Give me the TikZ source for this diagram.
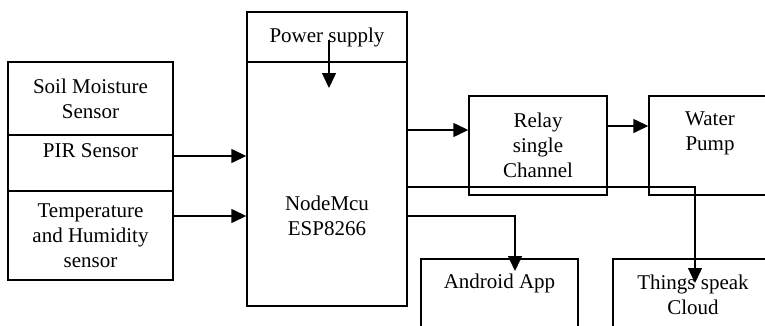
\documentclass[tikz,border=0pt]{standalone}
\usepackage{fontspec}
\setmainfont{Liberation Serif}
\usetikzlibrary{arrows.meta,positioning}

\begin{document}
\begin{tikzpicture}[
  x=1pt, y=-1pt,
  every node/.style={font=\fontsize{21}{25}\selectfont},
  blk/.style={draw, line width=1.4pt, inner sep=0pt, align=center},
  txt/.style={inner sep=0pt, align=center},
  arr/.style={-{Triangle[length=15pt, width=14pt]}, line width=1.4pt}
]
  \useasboundingbox (0,0) rectangle (765,325);
  \clip (0,0) rectangle (765,325);

  % Sensor column (x = 8 .. 173)
  \node[blk, minimum width=165pt, minimum height=73pt] (soil) at (90.5,98.5) {Soil Moisture\\Sensor};
  \node[blk, minimum width=165pt, minimum height=56pt] (pir) at (90.5,163) {};
  \node[txt] (pirtxt) at (90.5,151) {PIR Sensor};
  \node[blk, minimum width=165pt, minimum height=89pt] (temp) at (90.5,235.5) {Temperature\\and Humidity\\sensor};

  % Controller, power supply on top (x = 247 .. 407)
  \node[blk, minimum width=160pt, minimum height=50pt] (power) at (327,37) {Power supply};
  \node[blk, minimum width=160pt, minimum height=244pt] (mcu) at (327,184) {};
  \node[txt] (mcutxt) at (327,215.5) {NodeMcu\\ESP8266};

  % Outputs (right half runs past the page edge)
  \node[blk, minimum width=138pt, minimum height=99pt] (relay) at (538,145.5) {Relay\\single\\Channel};
  \node[blk, minimum width=122pt, minimum height=99pt] (pump) at (710,145.5) {};
  \node[txt] (pumptxt) at (710,133.5) {Water\\Pump};
  \node[blk, minimum width=157pt, minimum height=72pt] (app) at (499.5,295) {};
  \node[txt] (apptxt) at (499.5,283) {Android App};
  \node[blk, minimum width=160pt, minimum height=72pt] (cloud) at (693,295) {Things speak\\Cloud};

  % Turning points of the connectors
  \coordinate (pwrtip) at (329,88);
  \coordinate (appturn) at (515,216);
  \coordinate (apptip) at (515,271);
  \coordinate (cloudturn) at (695,187);
  \coordinate (cloudtip) at (695,283);

  % Sensors into the controller
  \draw[arr] ([yshift=7pt]pir.east) -- ([yshift=7pt]pir.east -| mcu.west);
  \draw[arr] ([yshift=19.5pt]temp.east) -- ([yshift=19.5pt]temp.east -| mcu.west);
  \draw[arr] ([yshift=-3pt]pwrtip |- power.center) -- (pwrtip);

  % Controller out to relay, pump, app and cloud
  \draw[arr] ([yshift=15.5pt]relay.west -| mcu.east) -- ([yshift=15.5pt]relay.west);
  \draw[arr] ([yshift=19.5pt]relay.east) -- ([yshift=19.5pt]relay.east -| pump.west);
  \draw[arr] (appturn -| mcu.east) -- (appturn) -- (apptip);
  \draw[arr] (cloudturn -| mcu.east) -- (cloudturn) -- (cloudtip);

\end{tikzpicture}
\end{document}
